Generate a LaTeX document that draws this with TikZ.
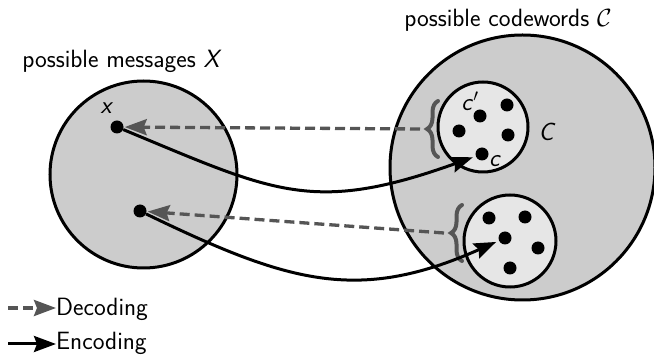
\documentclass[tikz,border=0pt]{standalone}
\usetikzlibrary{arrows.meta,decorations.pathreplacing}
\definecolor{bigfill}{HTML}{CCCCCC}
\definecolor{smallfill}{HTML}{E6E6E6}
\definecolor{decgray}{HTML}{555555}
\begin{document}
\begin{tikzpicture}[x=1pt,y=-1pt,
  font=\sffamily\fontsize{25}{30}\selectfont,
  bigset/.style={circle, draw=black, line width=3pt, fill=bigfill, inner sep=0pt},
  smallset/.style={circle, draw=black, line width=3pt, fill=smallfill, inner sep=0pt},
  dot/.style={circle, fill=black, inner sep=0pt, minimum size=13pt},
  lbl/.style={inner sep=0pt},
  bracestyle/.style={draw=decgray, line width=4pt, line cap=round,
     decorate, decoration={brace, amplitude=11pt, aspect=0.5}},
  decarrow/.style={draw=decgray, line width=3.3pt, dash pattern=on 10pt off 5pt,
     -{Stealth[length=22pt,width=16pt,inset=3pt,fill=decgray,sep=0pt]}},
  encarrow/.style={draw=black, line width=3pt,
     -{Stealth[length=22pt,width=16pt,inset=3pt]}}
]
\useasboundingbox (0,0) rectangle (654,355);

% sets
\node[bigset, minimum size=187pt] (X) at (143.5,174.5) {};
\node[bigset, minimum size=265pt] (CC) at (522.5,167.5) {};
\node[smallset, minimum size=90pt] (C1) at (483,127) {};
\node[smallset, minimum size=92pt] (C2) at (510,241) {};

% titles
\node[lbl] (tX) at (122,61) {possible messages \textit{X}};
\node[lbl] (tC) at (508,20) {possible codewords $\mathcal{C}$};

% dots in X
\node[dot] (xdot) at (117,127) {};
\node[dot] (x2) at (140,211) {};
\node[lbl] (xl) at (107,108) {\textit{x}};

% dots in C1
\node[dot] (c1a) at (480,116) {};
\node[dot] (c1b) at (507,105) {};
\node[dot] (c1c) at (459,131) {};
\node[dot] (c1d) at (508,135) {};
\node[dot] (cdot) at (482,154) {};
\node[lbl] (cpl) at (470,101) {\textit{c}$'$};
\node[lbl] (cl) at (495,161) {\textit{c}};
\node[lbl] (Cl) at (547,132) {\textit{C}};

% dots in C2
\node[dot] (c2a) at (489,218) {};
\node[dot] (c2b) at (525,217) {};
\node[dot] (c2c) at (505,238) {};
\node[dot] (c2d) at (538,248) {};
\node[dot] (c2e) at (510,268) {};

% braces
\coordinate (b1top) at (438,101);
\coordinate (b1bot) at (438,157);
\coordinate (b1tip) at (420,129);
\coordinate (b2top) at (462,205);
\coordinate (b2bot) at (462,261);
\coordinate (b2tip) at (444,233);
\draw[bracestyle] (b1bot) -- (b1top);
\draw[bracestyle] (b2bot) -- (b2top);

% decoding arrows
\draw[decarrow, shorten >=1pt] (b1tip) -- (xdot);
\draw[decarrow, shorten >=1pt] (b2tip) -- (x2);

% encoding arrows
\draw[encarrow, shorten >=3pt] (xdot) .. controls (274,192) and (312,215) .. (cdot);
\draw[encarrow, shorten >=3pt] (x2) .. controls (287,282) and (357,304) .. (c2c);

% legend
\coordinate (d0) at (8,308);
\coordinate (e0) at (8,344);
\node[lbl, anchor=base west] (dec) at (56,316) {Decoding};
\node[lbl, anchor=base west] (enc) at (56,350) {Encoding};
\draw[decarrow] (d0) -- (dec.west |- d0);
\draw[encarrow] (e0) -- (enc.west |- e0);
\end{tikzpicture}
\end{document}
